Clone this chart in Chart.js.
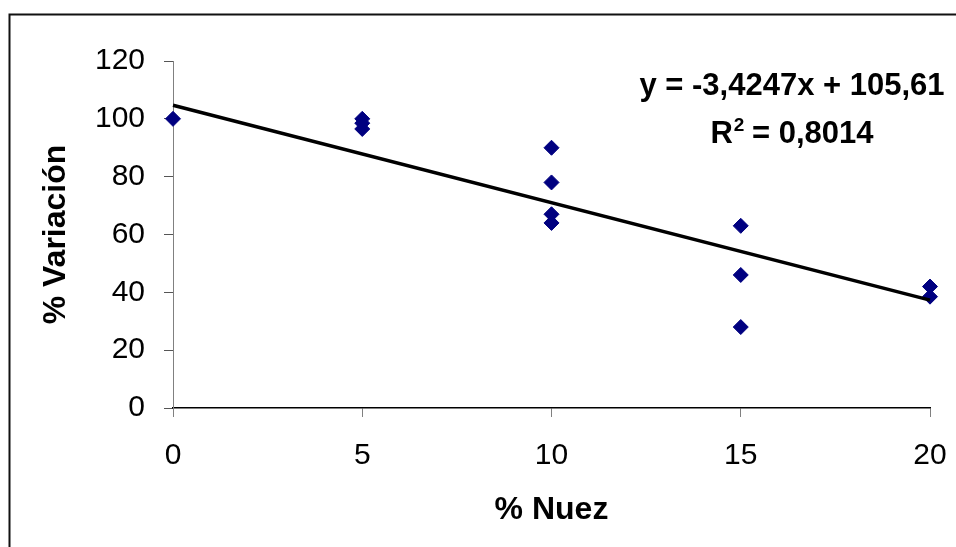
<!DOCTYPE html>
<html>
<head>
<meta charset="utf-8">
<script src="https://cdn.jsdelivr.net/npm/chart.js@4/dist/chart.umd.min.js"></script>
<style>
html,body{margin:0;padding:0;background:#fff;}
#wrap{width:956px;height:547px;position:relative;}
</style>
</head>
<body>
<div id="wrap"><canvas id="c" width="956" height="547"></canvas></div>
<script>
// Data
const nuez      = [0, 5, 5, 5, 10, 10, 10, 10, 15, 15, 15, 20, 20];
const variacion = [100, 100, 98.5, 96.5, 90, 78, 67, 64, 63, 46, 28, 42, 38.5];
const trendX = [0, 20];
const trendY = [104.7, 37.3];
const xTicks = [0, 5, 10, 15, 20];
const yTicks = [0, 20, 40, 60, 80, 100, 120];
const equationText = 'y = -3,4247x + 105,61';
const r2Value = '0,8014';
const xTitle = '% Nuez';
const yTitle = '% Variación';

const FONT = "'Liberation Sans', Arial, Helvetica, sans-serif";

const scatterPts = nuez.map((x, i) => ({x: x, y: variacion[i]}));
const trendPts = trendX.map((x, i) => ({x: x, y: trendY[i]}));

const decor = {
  id: 'decor',
  beforeDraw(chart) {
    const ctx = chart.ctx;
    ctx.save();
    ctx.fillStyle = '#fff';
    ctx.fillRect(0, 0, chart.width, chart.height);
    ctx.strokeStyle = '#111';
    ctx.lineWidth = 2;
    ctx.beginPath();
    ctx.moveTo(9.5, chart.height + 2);
    ctx.lineTo(9.5, 14.5);
    ctx.lineTo(chart.width + 2, 14.5);
    ctx.stroke();
    ctx.restore();
  },
  afterDraw(chart) {
    const ctx = chart.ctx;
    ctx.save();
    ctx.fillStyle = '#000';
    ctx.textBaseline = 'alphabetic';
    ctx.font = 'bold 31px ' + FONT;
    ctx.textAlign = 'center';
    ctx.fillText(equationText, 792, 95);
    const bigR = 'R';
    const rest = ' = ' + r2Value;
    ctx.font = 'bold 31px ' + FONT;
    const wR = ctx.measureText(bigR).width;
    const wRest = ctx.measureText(rest).width;
    ctx.font = 'bold 19px ' + FONT;
    const wSup = ctx.measureText('2').width;
    const total = wR + wSup + wRest;
    let x0 = 792 - total / 2;
    ctx.textAlign = 'left';
    ctx.font = 'bold 31px ' + FONT;
    ctx.fillText(bigR, x0, 143);
    ctx.font = 'bold 19px ' + FONT;
    ctx.fillText('2', x0 + wR + 1, 131);
    ctx.font = 'bold 31px ' + FONT;
    ctx.fillText(rest, x0 + wR + wSup, 143);
    ctx.restore();
  }
};

new Chart(document.getElementById('c'), {
  type: 'scatter',
  data: {
    datasets: [
      {
        type: 'line',
        data: trendPts,
        borderColor: '#000',
        borderWidth: 3.5,
        pointRadius: 0,
        fill: false,
        clip: false,
        order: 0
      },
      {
        data: scatterPts,
        pointStyle: 'rectRot',
        pointRadius: 7.5,
        pointHoverRadius: 7.5,
        backgroundColor: '#000080',
        borderColor: '#000080',
        borderWidth: 1,
        clip: false,
        order: 1
      }
    ]
  },
  plugins: [decor],
  options: {
    responsive: false,
    animation: false,
    events: [],
    layout: {padding: {left: 0, top: 61, right: 26, bottom: 0}},
    plugins: {legend: {display: false}, tooltip: {enabled: false}},
    scales: {
      x: {
        type: 'linear',
        min: 0, max: 20,
        afterBuildTicks(s) { s.ticks = xTicks.map(v => ({value: v})); },
        afterFit(s) { s.height = 547 - 408; s.paddingLeft = 0; s.paddingRight = 0; },
        border: {display: true, color: '#000', width: 1.5},
        grid: {drawOnChartArea: false, drawTicks: true, tickLength: 9, color: '#808080'},
        ticks: {color: '#000', font: {family: FONT, size: 30}, padding: 21, maxRotation: 0},
        title: {display: true, text: xTitle, color: '#000', font: {family: FONT, size: 32, weight: 'bold'}, padding: {top: 0, bottom: 18}}
      },
      y: {
        type: 'linear',
        min: 0, max: 120,
        afterBuildTicks(s) { s.ticks = yTicks.map(v => ({value: v})); },
        afterFit(s) { s.width = 173; s.paddingTop = 0; s.paddingBottom = 0; },
        border: {display: true, color: '#808080', width: 1},
        grid: {drawOnChartArea: false, drawTicks: true, tickLength: 9, color: '#555'},
        ticks: {color: '#000', font: {family: FONT, size: 30}, padding: 19},
        title: {display: true, text: yTitle, color: '#000', font: {family: FONT, size: 32, weight: 'bold'}, padding: {top: 37, bottom: 0}}
      }
    }
  }
});
</script>
</body>
</html>
